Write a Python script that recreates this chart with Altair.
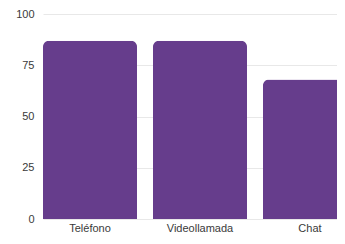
import altair as alt
import pandas as pd

categories = ["Teléfono", "Videollamada", "Chat"]
values = [87, 87, 68]

df = pd.DataFrame({"canal": categories, "valor": values})

chart = alt.Chart(df).mark_bar(
    color="#663d8c", cornerRadiusTopLeft=6, cornerRadiusTopRight=6
).encode(
    x=alt.X("canal:N", sort=categories, title=None,
            scale=alt.Scale(range=[0, 314], paddingInner=0.145, paddingOuter=0),
            axis=alt.Axis(labelAngle=0, ticks=False, domain=False, labelFontSize=11,
                          labelColor="#3a3a3a", labelFont="Liberation Sans", labelPadding=3)),
    y=alt.Y("valor:Q", title=None,
            scale=alt.Scale(domain=[0, 100]),
            axis=alt.Axis(values=[0, 25, 50, 75, 100], ticks=False, domain=False,
                          labelFontSize=11, labelColor="#3a3a3a", labelFont="Liberation Sans",
                          labelPadding=9, gridColor="#e8e8e8")),
).properties(
    width=294, height=205,
    autosize=alt.AutoSizeParams(type="none"),
    padding={"left": 35, "top": 6, "right": 0, "bottom": 13},
).configure_view(stroke=None)

chart.save("out.html", embed_options={"renderer": "svg", "actions": False})
